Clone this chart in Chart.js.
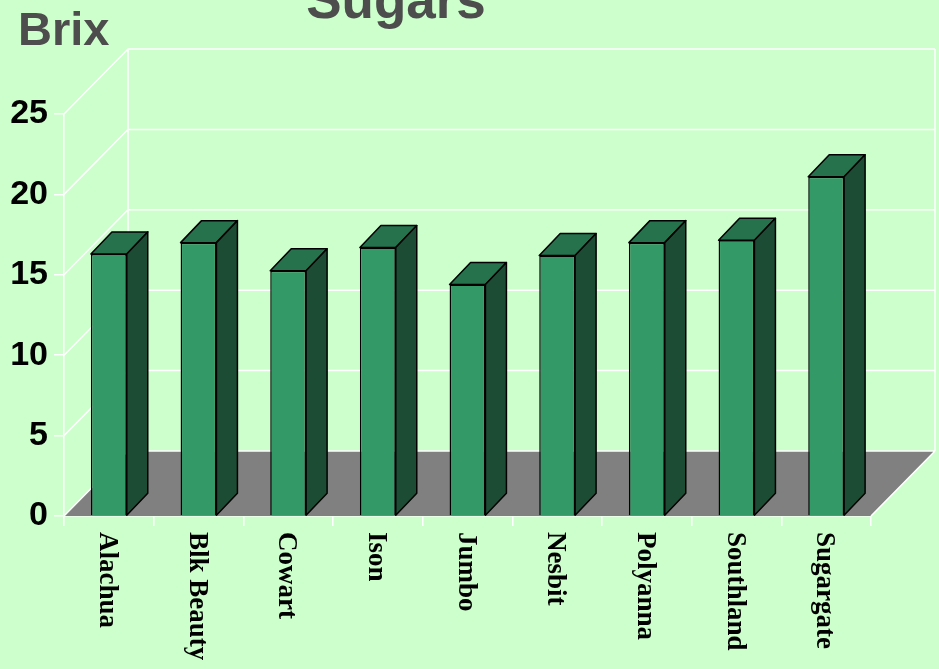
<!DOCTYPE html>
<html>
<head>
<meta charset="utf-8">
<title>Sugars</title>
<script src="https://cdn.jsdelivr.net/npm/chart.js@4/dist/chart.umd.min.js"></script>
<style>
  body { margin: 0; background: #ccffcc; }
  #wrap { width: 939px; height: 669px; }
</style>
</head>
<body>
<div id="wrap"><canvas id="myChart" width="939" height="669"></canvas></div>
<script>
// dati
const varieties = ['Alachua', 'Blk Beauty', 'Cowart', 'Ison', 'Jumbo', 'Nesbit', 'Polyanna', 'Southland', 'Sugargate'];
const brix = [16.3, 17.0, 15.25, 16.7, 14.4, 16.2, 17.0, 17.15, 21.1];
const yTicks = [0, 5, 10, 15, 20, 25];

// profondita' finta 3D
const WALL_DX = 64, WALL_DY = -65;
const BAR_DX = 21, BAR_DY = -22;

// pareti, pavimento e griglia dietro le barre
const walls = {
  id: 'walls',
  beforeDatasetsDraw(chart) {
    const ctx = chart.ctx;
    const x = chart.scales.x, y = chart.scales.y;
    const L = x.left, R = x.right;
    const B = y.getPixelForValue(0);
    const T = y.getPixelForValue(yTicks[yTicks.length - 1]);
    ctx.save();
    // pavimento grigio
    ctx.fillStyle = '#808080';
    ctx.beginPath();
    ctx.moveTo(L, B);
    ctx.lineTo(R, B);
    ctx.lineTo(R + WALL_DX, B + WALL_DY);
    ctx.lineTo(L + WALL_DX, B + WALL_DY);
    ctx.closePath();
    ctx.fill();
    ctx.strokeStyle = '#ffffff';
    ctx.lineWidth = 1.5;
    ctx.beginPath();
    yTicks.forEach(v => {
      const yf = y.getPixelForValue(v);
      ctx.moveTo(L, yf);
      ctx.lineTo(L + WALL_DX, yf + WALL_DY);
      ctx.lineTo(R + WALL_DX, yf + WALL_DY);
    });
    ctx.moveTo(L + WALL_DX, T + WALL_DY);
    ctx.lineTo(L + WALL_DX, B + WALL_DY);
    ctx.moveTo(R + WALL_DX, T + WALL_DY);
    ctx.lineTo(R + WALL_DX, B + WALL_DY);
    ctx.moveTo(R, B);
    ctx.lineTo(R + WALL_DX, B + WALL_DY);
    ctx.stroke();
    ctx.restore();
  },
  // facce superiori e laterali delle barre
  afterDatasetsDraw(chart) {
    const ctx = chart.ctx;
    const meta = chart.getDatasetMeta(0);
    ctx.save();
    ctx.strokeStyle = '#000000';
    ctx.lineWidth = 1.5;
    ctx.lineJoin = 'round';
    meta.data.forEach(bar => {
      const w = bar.width;
      const l = bar.x - w / 2, r = bar.x + w / 2;
      const t = bar.y, b = bar.base;
      ctx.fillStyle = '#25724d';
      ctx.beginPath();
      ctx.moveTo(l, t);
      ctx.lineTo(r, t);
      ctx.lineTo(r + BAR_DX, t + BAR_DY);
      ctx.lineTo(l + BAR_DX, t + BAR_DY);
      ctx.closePath();
      ctx.fill();
      ctx.stroke();
      ctx.fillStyle = '#1c4c34';
      ctx.beginPath();
      ctx.moveTo(r, t);
      ctx.lineTo(r + BAR_DX, t + BAR_DY);
      ctx.lineTo(r + BAR_DX, b + BAR_DY);
      ctx.lineTo(r, b);
      ctx.closePath();
      ctx.fill();
      ctx.stroke();
    });
    ctx.restore();
  },
  // titolo, Brix ed etichette verticali
  afterDraw(chart) {
    const ctx = chart.ctx;
    const x = chart.scales.x;
    ctx.save();
    ctx.fillStyle = '#4d4d4d';
    ctx.font = 'bold 53px Arial, "Liberation Sans", sans-serif';
    ctx.textAlign = 'center';
    ctx.textBaseline = 'alphabetic';
    ctx.fillText('Sugars', 396, 18);
    ctx.font = 'bold 47px Arial, "Liberation Sans", sans-serif';
    ctx.textAlign = 'left';
    ctx.fillText('Brix', 18, 45);

    ctx.fillStyle = '#000000';
    ctx.font = 'bold 27px "Times New Roman", "Liberation Serif", serif';
    ctx.textBaseline = 'middle';
    varieties.forEach((name, i) => {
      ctx.save();
      ctx.translate(x.getPixelForValue(i) - 2, 532);
      ctx.rotate(Math.PI / 2);
      ctx.fillText(name, 0, 0);
      ctx.restore();
    });
    ctx.restore();
  }
};

let ctx = document.getElementById('myChart').getContext('2d');
let myChart = new Chart(ctx, {
  type: 'bar',
  data: {
    labels: varieties,
    datasets: [{
      data: brix,
      backgroundColor: '#339966',
      borderColor: '#000000',
      borderWidth: 1.5,
      barPercentage: 0.4,
      categoryPercentage: 1
    }]
  },
  options: {
    responsive: false,
    animation: false,
    layout: { padding: { top: 114, right: 68, bottom: 143, left: 0 } },
    plugins: {
      legend: { display: false },
      tooltip: { enabled: false }
    },
    scales: {
      x: {
        offset: true,
        grid: { offset: true, drawOnChartArea: false, color: '#ffffff', tickLength: 10, lineWidth: 1.5 },
        border: { color: '#ffffff', width: 1.5 },
        ticks: { display: false },
        afterFit(scale) { scale.height = 10; }
      },
      y: {
        min: 0,
        max: 25,
        grid: { drawOnChartArea: false, color: '#ffffff', tickLength: 10, lineWidth: 1.5 },
        border: { color: '#ffffff', width: 1.5 },
        ticks: {
          stepSize: 5,
          padding: 6,
          color: '#000000',
          font: { family: 'Arial, "Liberation Sans", sans-serif', size: 34, weight: 'bold' }
        },
        afterFit(scale) { scale.width = 64; }
      }
    }
  },
  plugins: [walls]
});
</script>
</body>
</html>
